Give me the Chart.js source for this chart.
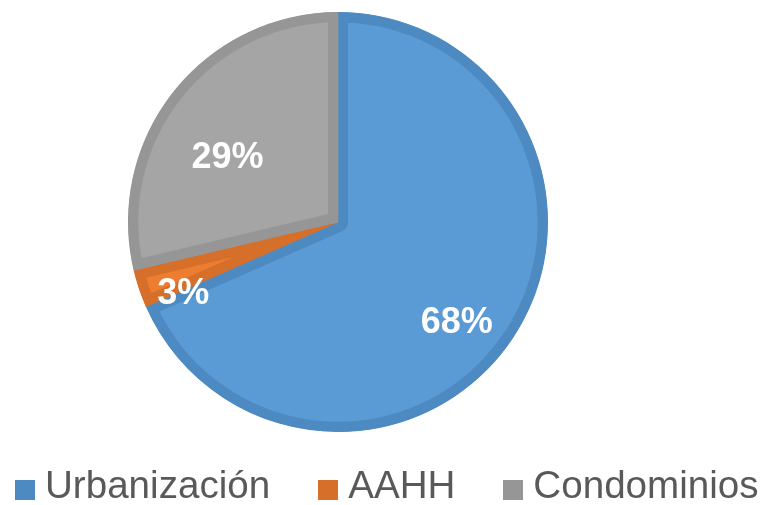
<!DOCTYPE html>
<html>
<head>
<meta charset="utf-8">
<script src="https://cdn.jsdelivr.net/npm/chart.js@4/dist/chart.umd.min.js"></script>
<style>
    body { margin: 0; background: #fff; }
    #wrap { position: relative; width: 764px; height: 505px; }
    #legend {
        position: absolute; left: 15px; top: 466px;
        display: flex; align-items: center;
        font-family: "Liberation Sans", Arial, sans-serif;
        font-size: 38.6px; line-height: 38px; color: #595959;
    }
    #legend .item { display: flex; align-items: center; margin-right: 48px; }
    #legend .item:last-child { margin-right: 0; }
    #legend .box { width: 20px; height: 20px; margin-right: 10px; margin-top: 10px; }
</style>
</head>
<body>
<div id="wrap">
    <canvas id="chart" width="764" height="505"></canvas>
    <div id="legend"></div>
</div>
<script>
    var categories = ['Urbanización', 'AAHH', 'Condominios'];
    var shares = [68.4, 2.9, 28.7];
    var shareLabels = ['68%', '3%', '29%'];

    var fillColors = ['#5B9BD5', '#ED7D31', '#A5A5A5'];
    var edgeColors = ['#4E8AC2', '#D66F29', '#969696'];

    // where each label sits: fraction of radius, nudge from mid angle (deg)
    var labelPlace = [
        { f: 0.74, nudge: 7 },
        { f: 0.81, nudge: -6 },
        { f: 0.61, nudge: -8 }
    ];

    var sliceLabels = {
        id: 'sliceLabels',
        afterDatasetsDraw: function(chart) {
            var ctx = chart.ctx;
            var meta = chart.getDatasetMeta(0);
            ctx.save();
            ctx.font = 'bold 36px "Liberation Sans", Arial, sans-serif';
            ctx.fillStyle = '#FFFFFF';
            ctx.textAlign = 'center';
            ctx.textBaseline = 'middle';
            meta.data.forEach(function(arc, i) {
                var p = arc.getProps(['x', 'y', 'startAngle', 'endAngle', 'outerRadius'], true);
                var a = (p.startAngle + p.endAngle) / 2 + labelPlace[i].nudge * Math.PI / 180;
                var r = p.outerRadius * labelPlace[i].f;
                ctx.fillText(shareLabels[i], p.x + Math.cos(a) * r, p.y + Math.sin(a) * r + 1);
            });
            ctx.restore();
        }
    };

    var chart = new Chart(document.getElementById('chart'), {
        type: 'pie',
        data: {
            labels: categories,
            datasets: [{
                data: shares,
                backgroundColor: fillColors,
                borderColor: edgeColors,
                borderWidth: 10,
                borderAlign: 'inner',
                hoverOffset: 0
            }]
        },
        options: {
            responsive: false,
            animation: false,
            events: [],
            layout: { padding: { top: 12, left: 128, right: 216, bottom: 73 } },
            plugins: {
                legend: { display: false },
                tooltip: { enabled: false }
            }
        },
        plugins: [sliceLabels]
    });

    var legend = document.getElementById('legend');
    var html = '';
    categories.forEach(function(name, i) {
        html += '<div class="item"><span class="box" style="background:' + edgeColors[i] + '"></span>';
        html += '<span>' + name + '</span></div>';
    });
    legend.innerHTML = html;
</script>
</body>
</html>
